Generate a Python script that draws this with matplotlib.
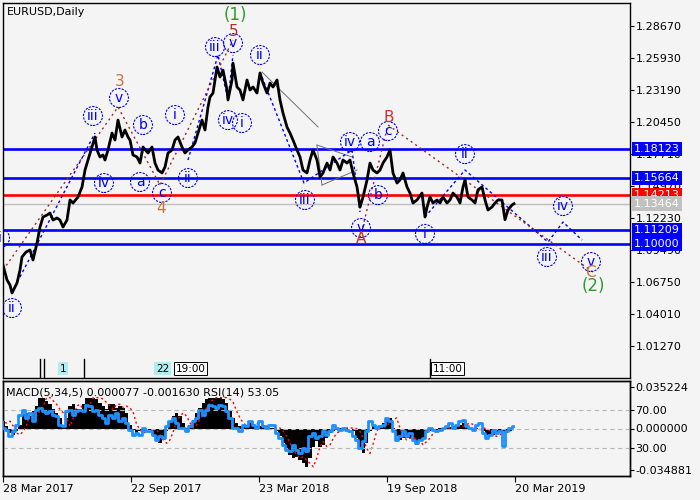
import numpy as np
import matplotlib
matplotlib.use('Agg')
import matplotlib.pyplot as plt
from matplotlib.patches import Circle
from matplotlib.transforms import ScaledTranslation, blended_transform_factory

# EURUSD daily closes, bar index counted from 28 Mar 2017
bars = [0, 4, 7, 9, 12, 14, 17, 19, 23, 27, 30, 34, 37, 40, 44, 47, 50, 54, 57, 60,
        64, 67, 70, 75, 79, 82, 85, 89, 92, 94, 97, 100, 102, 105, 109, 112, 115, 119, 122, 125,
        127, 130, 134, 137, 140, 145, 149, 152, 155, 159, 162, 165, 169, 172, 175, 179, 182, 185, 189, 192,
        195, 199, 202, 205, 207, 210, 214, 217, 220, 224, 225, 229, 230, 234, 237, 240, 244, 247, 250, 254,
        257, 260, 264, 267, 270, 274, 277, 280, 284, 287, 290, 294, 297, 300, 304, 307, 310, 314, 317, 320,
        324, 327, 330, 334, 337, 340, 344, 347, 350, 354, 357, 360, 364, 367, 370, 374, 377, 380, 384, 387,
        390, 394, 397, 400, 404, 407, 410, 414, 419, 422, 424, 427, 430, 434, 437, 440, 444, 447, 450, 454,
        457, 460, 462, 465, 469, 472, 475, 479, 482, 485, 489, 492, 495, 499, 502, 505, 509, 511]
close = [1.0821, 1.0693, 1.0650, 1.0582, 1.0633, 1.0667, 1.0778, 1.0890, 1.0932, 1.0950, 1.0864, 1.1009, 1.1146, 1.1232, 1.1249, 1.1266, 1.1206, 1.1224, 1.1206, 1.1146,
         1.1206, 1.1378, 1.1352, 1.1403, 1.1489, 1.1634, 1.1720, 1.1831, 1.1917, 1.1806, 1.1746, 1.1763, 1.1720, 1.1806, 1.1951, 1.1891, 1.2062, 1.1917, 1.1977, 1.1917,
         1.1891, 1.1763, 1.1746, 1.1694, 1.1831, 1.1780, 1.1831, 1.1694, 1.1634, 1.1609, 1.1660, 1.1780, 1.1806, 1.1891, 1.1917, 1.1831, 1.1780, 1.1806, 1.1831, 1.1866,
         1.1951, 1.2062, 1.1977, 1.2174, 1.2259, 1.2293, 1.2516, 1.2430, 1.2490, 1.2319, 1.2234, 1.2405, 1.2550, 1.2345, 1.2319, 1.2234, 1.2405, 1.2319, 1.2345, 1.2293,
         1.2465, 1.2379, 1.2293, 1.2379, 1.2345, 1.2405, 1.2234, 1.2122, 1.2002, 1.1951, 1.1891, 1.1806, 1.1746, 1.1634, 1.1609, 1.1720, 1.1806, 1.1720, 1.1574, 1.1609,
         1.1694, 1.1634, 1.1746, 1.1694, 1.1634, 1.1720, 1.1694, 1.1720, 1.1609, 1.1489, 1.1316, 1.1403, 1.1548, 1.1694, 1.1634, 1.1609, 1.1634, 1.1694, 1.1746, 1.1806,
         1.1609, 1.1523, 1.1549, 1.1609, 1.1489, 1.1437, 1.1352, 1.1378, 1.1437, 1.1232, 1.1316, 1.1403, 1.1352, 1.1378, 1.1352, 1.1403, 1.1352, 1.1378, 1.1437, 1.1403,
         1.1352, 1.1489, 1.1549, 1.1403, 1.1378, 1.1352, 1.1466, 1.1489, 1.1378, 1.1292, 1.1318, 1.1352, 1.1378, 1.1378, 1.1209, 1.1292, 1.1335, 1.1346]

levels = [1.18123, 1.15664, 1.14213, 1.11209, 1.10000]
level_cols = ['#0000ff', '#0000ff', '#ff0000', '#0000ff', '#0000ff']
last_price = 1.13464
price_ticks = [1.28670, 1.25930, 1.23190, 1.20450, 1.17710, 1.14970, 1.12230, 1.09490, 1.06750, 1.04010, 1.01270]

# wave counts
wave_txt = ['i', 'ii', 'iii', 'v', 'iv', 'b', 'a', 'c', 'i', 'ii', 'iii', 'v', 'iv', 'i', 'ii',
            'iii', 'iv', 'a', 'c', 'b', 'v', 'ii', 'i', 'iii', 'iv', 'v']
wave_bar = [-3, 9, 90, 116, 101, 140, 137, 159, 172, 185, 212, 230, 225, 239, 257,
            302, 347, 367, 385, 375, 358, 462, 422, 544, 560, 588]
wave_px = [1.1052, 1.0453, 1.2097, 1.2251, 1.1523, 1.2020, 1.1532, 1.1438, 1.2105, 1.1566, 1.2687, 1.2721, 1.2062, 1.2037, 1.2619,
           1.1378, 1.1874, 1.1874, 1.1968, 1.1420, 1.1138, 1.1771, 1.1087, 1.0890, 1.1326, 1.0847]
major_txt = ['3', '4', '5', '(1)', 'B', 'A', 'C', '(2)']
major_bar = [117, 158, 231, 232, 386, 358, 587, 590]
major_px = [1.2388, 1.1309, 1.2824, 1.2961, 1.2088, 1.1044, 1.0753, 1.0641]
major_col = ['#c87533', '#c87533', '#b03030', '#2e9b2e', '#d03030', '#d03030', '#c87533', '#2e9b2e']

red_paths = [([0, 115, 157, 230], [1.0778, 1.2174, 1.1506, 1.2747]),
             ([357, 385, 590], [1.1052, 1.2020, 1.0761])]
blue_paths = [([17, 92], [1.0719, 1.1951]),
              ([185, 215, 225, 230], [1.1720, 1.2619, 1.2234, 1.2619]),
              ([257, 301, 349, 357], [1.2473, 1.1523, 1.1806, 1.1275]),
              ([422, 462, 545, 560, 579], [1.1232, 1.1634, 1.1018, 1.1189, 1.1035])]
gray_paths = [([259, 315], [1.2473, 1.2003]),
              ([314, 349], [1.1848, 1.1746]),
              ([319, 354], [1.1506, 1.1634]),
              ([314, 319], [1.1848, 1.1506])]

event_lines = [37, 41, 81, 427]
event_boxes = [('1', 57, '#aeeeee'), ('22', 153, '#aeeeee'), ('19:00', 173, 'white'), ('11:00', 430, 'white')]

# indicators, one value every 10/3 bars
macd_k = [4.7, 6.2, 1.9, -3.9, -5.3, -2.4, 3.3, 11.9, 13.3, 10.5,
          14.7, 19.0, 26.2, 26.2, 23.3, 20.5, 16.2, 13.3, 9.0, 1.9,
          9.0, 19.0, 20.5, 16.2, 16.2, 20.5, 26.2, 26.2, 26.2, 24.8,
          21.9, 19.0, 16.2, 20.5, 20.5, 17.6, 19.0, 17.6, 13.3, 3.3,
          -1.0, -3.9, -2.4, -2.4, -1.0, -1.0, -5.3, -9.6, -12.5, -9.6,
          -2.4, 6.2, 10.5, 13.3, 10.5, 4.7, 0.4, 3.3, 7.6, 13.3,
          17.6, 21.9, 24.8, 26.2, 26.2, 26.2, 26.2, 24.8, 21.9, 14.7,
          9.0, 4.7, 1.9, 3.3, 3.3, 4.7, 3.3, 1.9,
          1.9, 3.3, 1.9, 0.4, 0.4, -2.4, -6.7, -12.5, -18.2, -22.5,
          -25.3, -23.9, -26.8, -29.6, -32.5, -25.3, -15.3, -11.0, -15.3, -13.9,
          -8.2, -3.9, -2.4, -1.0, 0.4, 0.4, 0.4, -0.1, -2.4, -8.2,
          -16.8, -21.1, -12.5, -2.4, 1.9, 0.4, 1.9, 4.7, 7.6, 9.0,
          0.4, -6.7, -9.6, -8.2, -8.2, -8.2, -11.0, -13.9, -11.0, -8.2,
          -3.9, -2.4, -1.0, -1.0, 0.4, 0.4, 0.4, 1.0, 1.9, 1.9,
          3.3, 4.7, 3.3, 0.4, -1.0, 0.4, -0.1, -2.4, -5.3, -6.7,
          -5.3, -3.0, -1.9, -2.4, -3.9, -1.9, 0.1]
signal_k = [5.0, 5.0, 4.7, 6.2, 1.9, -3.9, -5.3, -2.4, 3.3, 11.9,
            13.3, 10.5, 14.7, 19.0, 26.2, 26.2, 23.3, 20.5, 16.2, 13.3,
            9.0, 1.9, 9.0, 19.0, 20.5, 16.2, 16.2, 20.5, 26.2, 26.2,
            26.2, 24.8, 21.9, 19.0, 16.2, 20.5, 20.5, 17.6, 19.0, 17.6,
            13.3, 3.3, -1.0, -3.9, -2.4, -2.4, -1.0, -1.0, -5.3, -9.6,
            -12.5, -9.6, -2.4, 6.2, 10.5, 13.3, 10.5, 4.7, 0.4, 3.3,
            7.6, 13.3, 17.6, 21.9, 24.8, 26.2, 26.2, 26.2, 26.2, 24.8,
            21.9, 14.7, 9.0, 4.7, 1.9, 3.3, 3.3, 4.7,
            3.3, 1.9, 1.9, 3.3, 1.9, 0.4, 0.4, -2.4, -6.7, -12.5,
            -18.2, -22.5, -25.3, -23.9, -26.8, -29.6, -32.5, -25.3, -15.3, -11.0,
            -15.3, -13.9, -8.2, -3.9, -2.4, -1.0, 0.4, 0.4, 0.4, -0.1,
            -2.4, -8.2, -16.8, -21.1, -12.5, -2.4, 1.9, 0.4, 1.9, 4.7,
            7.6, 9.0, 0.4, -6.7, -9.6, -8.2, -8.2, -8.2, -11.0, -13.9,
            -11.0, -8.2, -3.9, -2.4, -1.0, -1.0, 0.4, 0.4, 0.4, 1.0,
            1.9, 1.9, 3.3, 4.7, 3.3, 0.4, -1.0, 0.4, -0.1, -2.4,
            -5.3, -6.7, -5.3, -3.0, -1.9, -2.4, -1.6]
rsi = [57.5, 50.5, 48.8, 41.8, 47.0, 54.0, 64.6, 69.8, 61.1, 66.3,
       57.5, 69.8, 71.6, 68.1, 66.3, 68.1, 64.6, 62.8, 54.0, 52.3,
       68.1, 69.8, 64.6, 68.1, 69.8, 68.1, 75.1, 73.3, 68.1, 69.8,
       64.6, 61.1, 55.8, 64.6, 61.1, 66.3, 57.5, 61.1, 55.8, 48.8,
       43.5, 45.3, 43.5, 50.5, 47.0, 47.0, 43.5, 38.3, 41.8, 40.0,
       52.3, 57.5, 61.1, 55.8, 50.5, 50.5, 47.0, 52.3, 57.5, 61.1,
       69.8, 64.6, 69.8, 75.1, 73.3, 71.6, 75.1, 73.3, 68.1, 61.1,
       50.5, 50.5, 47.0, 54.0, 52.3, 57.5, 54.0, 50.5,
       57.5, 52.3, 50.5, 54.0, 54.0, 45.3, 40.0, 33.0, 27.7, 26.0,
       33.0, 27.7, 24.2, 29.5, 26.0, 41.8, 45.3, 40.0, 41.8, 47.0,
       43.5, 47.0, 54.0, 50.5, 48.8, 50.5, 48.8, 47.0, 41.8, 38.3,
       29.5, 36.5, 47.0, 57.5, 54.0, 50.5, 52.3, 54.0, 61.1, 57.5,
       47.0, 38.3, 41.8, 47.0, 41.8, 45.3, 38.3, 34.7, 38.3, 40.0,
       47.0, 50.5, 48.8, 47.0, 48.8, 50.5, 52.3, 55.8, 50.5, 54.0,
       57.5, 59.3, 52.3, 50.5, 48.8, 54.0, 55.8, 45.3, 40.0, 43.5,
       48.8, 45.3, 47.0, 31.2, 47.0, 50.5, 53.05]

date_ticks = [0, 128, 256, 384, 512]
date_labels = ['28 Mar 2017', '22 Sep 2017', '23 Mar 2018', '19 Sep 2018', '20 Mar 2019']

bg = '#f4f4f4'
blue = '#0000ff'
fig = plt.figure(figsize=(7, 5), dpi=100, facecolor=bg)

# ---- price panel
ax = fig.add_axes([3/700, 122/500, 627/700, 375/500], facecolor=bg)
ax.set_xlim(0, 627)
ax.set_ylim(0.9854, 1.3064)
for s in ax.spines.values():
    s.set_color('black'); s.set_linewidth(1)

for lv, c in zip(levels, level_cols):
    ax.axhline(lv, color=c, lw=1.9, zorder=2)
ax.axhline(last_price, color='#c0c0c0', lw=1, zorder=1)

for xs, ys in gray_paths:
    ax.plot(xs, ys, color='#707070', lw=0.7, zorder=2)
for xs, ys in blue_paths:
    ax.plot(xs, ys, color=blue, lw=1, ls=(0, (2, 2)), zorder=3)
for xs, ys in red_paths:
    ax.plot(xs, ys, color='#a02828', lw=1, ls=(0, (1.5, 2.5)), zorder=3)

ax.plot(bars, close, color='black', lw=2.0, zorder=4)

for t, b, p in zip(wave_txt, wave_bar, wave_px):
    tr = fig.dpi_scale_trans + ScaledTranslation(b, p, ax.transData)
    ax.add_patch(Circle((0, 0), 0.095, transform=tr, fill=False, ec=blue, lw=0.8,
                        ls=(0, (2, 1.2)), zorder=5))
    ax.text(b, p, t, color=blue, fontsize=10, ha='center', va='center', zorder=6)
for t, b, p, c in zip(major_txt, major_bar, major_px, major_col):
    ax.text(b, p, t, color=c, fontsize=11 if len(t) == 1 else 12, ha='center', va='center', zorder=6)

ax.text(4/627, 0.976, 'EURUSD,Daily', transform=ax.transAxes, fontsize=8, va='center', ha='left')

evt = blended_transform_factory(ax.transData, ax.transAxes)
for b in event_lines:
    ax.plot([b, b], [0, 0.05], color='black', lw=1, transform=evt)
for t, b, c in event_boxes:
    ax.text(b, 0.025, t, transform=evt, fontsize=7.5, ha='left', va='center', zorder=6,
            bbox=dict(boxstyle='square,pad=0.15', fc=c, ec='black' if c == 'white' else 'none', lw=0.7))

ax.set_xticks([])
ax.yaxis.tick_right()
ax.set_yticks(price_ticks)
ax.set_yticklabels(['%.5f' % v for v in price_ticks])
ax.tick_params(axis='y', direction='out', length=3, labelsize=8, pad=1)

lbl_tr = blended_transform_factory(ax.transAxes, ax.transData)
for lv, c in zip(levels + [last_price], level_cols + ['#c0c0c0']):
    ax.text(1.006, lv, '%.5f' % lv, transform=lbl_tr, color='white', fontsize=8,
            ha='left', va='center', zorder=10, clip_on=False,
            bbox=dict(boxstyle='square,pad=0.2', fc=c, ec='none'))

# ---- MACD / RSI panel
axm = fig.add_axes([3/700, 24/500, 627/700, 95/500], facecolor=bg)
axm.set_xlim(0, 627)
axm.set_ylim(-0.0403, 0.0403)
ind_x = np.arange(len(rsi)) * 10 / 3 - 3
macd = np.array(macd_k) * 1e-3
signal = np.array(signal_k) * 1e-3
axm.fill_between(ind_x, 0, macd, step='mid', color='black', lw=0, zorder=2)
axm.plot(ind_x, signal, color='red', lw=1, ls=(0, (1.5, 2)), zorder=3)

axr = axm.twinx()
axr.set_ylim(0, 100)
for lv in [70, 50, 30]:
    axr.axhline(lv, color='#b8b8b8', lw=0.8, ls=(0, (4, 3)), zorder=1)
axr.plot(ind_x, rsi, color='#1e90ff', lw=2, drawstyle='steps-mid', zorder=4)
axr.set_yticks([70, 30])
axr.set_yticklabels(['70.00', '30.00'])
axr.tick_params(axis='y', direction='out', length=3, labelsize=8, pad=1)

axm.yaxis.tick_right()
axm.set_yticks([0.035224, 0.0, -0.034881])
axm.set_yticklabels(['0.035224', '0.000000', '-0.034881'])
axm.tick_params(axis='y', direction='out', length=3, labelsize=8, pad=1)
axm.set_xticks(date_ticks)
axm.set_xticklabels(date_labels, fontsize=8)
for lb in axm.get_xticklabels():
    lb.set_ha('left')
axm.tick_params(axis='x', direction='out', length=4, pad=2)
for a in (axm, axr):
    for s in a.spines.values():
        s.set_color('black'); s.set_linewidth(1)

axm.text(3/627, 0.884, 'MACD(5,34,5) 0.000077 -0.001630 RSI(14) 53.05', transform=axm.transAxes,
         fontsize=8, ha='left', va='center', zorder=6)

fig.savefig('out.png', dpi=100, facecolor=bg)
